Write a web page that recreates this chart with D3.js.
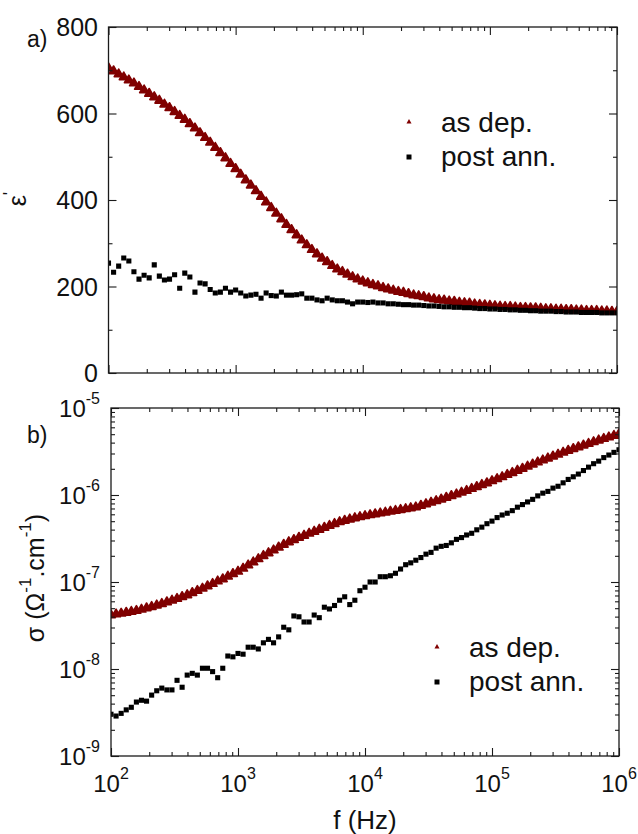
<!DOCTYPE html>
<meta charset="utf-8">
<style>
body { margin: 0; background: #fff; }
svg { font-family: "Liberation Sans", Arial, sans-serif; fill: #111; }
.frame { fill: none; stroke: #1a1a1a; stroke-width: 1.3px; }
.axis .tick line { stroke: #1a1a1a; stroke-width: 1.1px; }
.axis .domain { display: none; }
</style>
<body>
<svg id="chart" width="638" height="834"></svg>
<script src="https://d3js.org/d3.v7.min.js"></script>
<script>
// frequency sweep, log10(f / Hz)
var freqExp = [2.00,2.04,2.08,2.12,2.16,2.20,2.24,2.28,2.32,2.36,
    2.40,2.44,2.48,2.52,2.56,2.60,2.64,2.68,2.72,2.76,
    2.80,2.84,2.88,2.92,2.96,3.00,3.04,3.08,3.12,3.16,
    3.20,3.24,3.28,3.32,3.36,3.40,3.44,3.48,3.52,3.56,
    3.60,3.64,3.68,3.72,3.76,3.80,3.84,3.88,3.92,3.96,
    4.00,4.04,4.08,4.12,4.16,4.20,4.24,4.28,4.32,4.36,
    4.40,4.44,4.48,4.52,4.56,4.60,4.64,4.68,4.72,4.76,
    4.80,4.84,4.88,4.92,4.96,5.00,5.04,5.08,5.12,5.16,
    5.20,5.24,5.28,5.32,5.36,5.40,5.44,5.48,5.52,5.56,
    5.60,5.64,5.68,5.72,5.76,5.80,5.84,5.88,5.92,5.96,
    6.00];

// a) permittivity
var epsAsDep = [705,698,691,684,677,670,662,654,646,638,
    630,621,613,604,595,586,576,566,555,544,
    533,521,509,497,484,472,459,446,434,421,
    408,395,382,369,356,343,331,319,307,296,
    285,275,265,257,248,240,234,228,222,217,
    212,208,204,201,197,194,191,188,186,183,
    180,178,176,173,171,169,168,166,165,163,
    162,161,159,158,157,156,155,154,153,153,
    152,151,151,150,150,149,148,148,147,147,
    146,146,145,145,144,144,144,143,143,142,
    142];
var epsPostAnn = [254,233,247,266,259,234,217,226,220,250,
    224,215,217,227,196,231,222,187,208,206,
    193,185,187,196,187,192,185,178,180,182,
    173,185,179,178,187,180,180,181,183,173,
    173,169,167,173,169,167,167,164,160,164,
    164,163,164,162,162,160,160,159,158,158,
    157,157,156,155,155,154,153,153,152,152,
    151,151,150,149,149,148,148,147,147,146,
    146,145,145,144,144,143,143,143,142,142,
    141,141,141,140,140,140,140,139,139,139,
    139];

// b) conductivity (ohm^-1 cm^-1)
var sigAsDep = [4.17e-8,4.26e-8,4.35e-8,4.45e-8,4.56e-8,4.68e-8,4.83e-8,5.01e-8,5.19e-8,5.40e-8,
    5.62e-8,5.87e-8,6.14e-8,6.43e-8,6.75e-8,7.08e-8,7.50e-8,7.94e-8,8.43e-8,8.97e-8,
    9.55e-8,1.02e-7,1.08e-7,1.16e-7,1.24e-7,1.32e-7,1.43e-7,1.56e-7,1.69e-7,1.84e-7,
    2.00e-7,2.15e-7,2.32e-7,2.50e-7,2.69e-7,2.88e-7,3.05e-7,3.24e-7,3.42e-7,3.61e-7,
    3.80e-7,4.01e-7,4.22e-7,4.44e-7,4.67e-7,4.90e-7,5.08e-7,5.26e-7,5.43e-7,5.60e-7,
    5.75e-7,5.89e-7,6.03e-7,6.17e-7,6.31e-7,6.46e-7,6.61e-7,6.76e-7,6.92e-7,7.08e-7,
    7.24e-7,7.55e-7,7.87e-7,8.20e-7,8.55e-7,8.91e-7,9.33e-7,9.77e-7,1.02e-6,1.07e-6,
    1.12e-6,1.18e-6,1.24e-6,1.31e-6,1.37e-6,1.45e-6,1.53e-6,1.61e-6,1.71e-6,1.80e-6,
    1.91e-6,2.01e-6,2.13e-6,2.25e-6,2.38e-6,2.51e-6,2.64e-6,2.78e-6,2.92e-6,3.08e-6,
    3.24e-6,3.39e-6,3.55e-6,3.72e-6,3.89e-6,4.07e-6,4.25e-6,4.43e-6,4.61e-6,4.81e-6,
    5.01e-6];
var sigPostAnn = [3.02e-9,2.88e-9,3.09e-9,3.39e-9,3.63e-9,4.17e-9,4.37e-9,4.27e-9,5.01e-9,5.62e-9,
    6.03e-9,5.75e-9,5.75e-9,7.41e-9,6.17e-9,8.51e-9,8.91e-9,8.51e-9,1.02e-8,1.02e-8,
    9.33e-9,7.94e-9,1.02e-8,1.41e-8,1.38e-8,1.51e-8,1.48e-8,1.78e-8,1.78e-8,1.70e-8,
    2.00e-8,2.19e-8,2.00e-8,2.34e-8,3.02e-8,2.82e-8,4.07e-8,3.98e-8,3.47e-8,3.47e-8,
    4.17e-8,3.89e-8,5.13e-8,4.90e-8,5.37e-8,6.17e-8,6.76e-8,5.50e-8,6.17e-8,7.94e-8,
    8.71e-8,1.00e-7,1.00e-7,1.15e-7,1.15e-7,1.18e-7,1.26e-7,1.41e-7,1.58e-7,1.66e-7,
    1.78e-7,1.91e-7,2.09e-7,2.19e-7,2.45e-7,2.57e-7,2.63e-7,2.82e-7,3.09e-7,3.24e-7,
    3.47e-7,3.63e-7,3.98e-7,4.27e-7,4.68e-7,5.01e-7,5.50e-7,5.89e-7,6.17e-7,6.61e-7,
    7.24e-7,7.76e-7,8.32e-7,8.91e-7,9.77e-7,1.05e-6,1.10e-6,1.20e-6,1.26e-6,1.38e-6,
    1.51e-6,1.62e-6,1.74e-6,1.91e-6,2.09e-6,2.29e-6,2.45e-6,2.69e-6,2.88e-6,3.09e-6,
    3.31e-6];

var seriesNames = ["as dep.", "post ann."];
var freqTicks = [1e2, 1e3, 1e4, 1e5, 1e6];
var epsTicks = [0, 200, 400, 600, 800];
var epsMinor = [100, 300, 500, 700];
var sigTicks = [1e-9, 1e-8, 1e-7, 1e-6, 1e-5];

var red = "#800000";
var svg = d3.select("#chart");
var defs = svg.append("defs");

function logMinor(majors) {
    var out = [];
    majors.slice(0, -1).forEach(function(m) {
        for (var k = 2; k <= 9; k++) out.push(m * k);
    });
    return out;
}

function drawTicks(g, p, x, y, yMajor, yMinor) {
    var xMinor = logMinor(freqTicks);
    var sets = [
        [d3.axisBottom, x, "translate(0," + p.bottom + ")"],
        [d3.axisTop, x, "translate(0," + p.top + ")"],
        [d3.axisLeft, y, "translate(" + p.left + ",0)"],
        [d3.axisRight, y, "translate(" + p.right + ",0)"]
    ];
    sets.forEach(function(s) {
        var isX = s[1] === x;
        var major = isX ? freqTicks : yMajor, minor = isX ? xMinor : yMinor;
        g.append("g").attr("class", "axis").attr("transform", s[2])
            .call(s[0](s[1]).tickValues(major).tickSize(-8).tickFormat(""));
        g.append("g").attr("class", "axis").attr("transform", s[2])
            .call(s[0](s[1]).tickValues(minor).tickSize(-4).tickFormat(""));
    });
    g.append("rect").attr("class", "frame")
        .attr("x", p.left).attr("y", p.top)
        .attr("width", p.right - p.left).attr("height", p.bottom - p.top);
}

function powerLabel(sel, exp, supSize) {
    sel.append("tspan").text("10");
    sel.append("tspan").attr("font-size", supSize).attr("dy", "-0.8em").text(exp);
}

function drawPanel(p) {
    var x = d3.scaleLog().domain([1e2, 1e6]).range([p.left, p.right]);
    var y = p.y;
    var g = svg.append("g");

    defs.append("clipPath").attr("id", "clip-" + p.name).append("rect")
        .attr("x", p.left).attr("y", p.top)
        .attr("width", p.right - p.left).attr("height", p.bottom - p.top);

    var pts = g.append("g").attr("clip-path", "url(#clip-" + p.name + ")");
    var tri = d3.symbol().type(d3.symbolTriangle).size(34);
    var sq = d3.symbol().type(d3.symbolSquare).size(26);

    pts.selectAll(".asdep").data(p.asDep).join("path")
        .attr("class", "asdep")
        .attr("d", tri)
        .attr("fill", red)
        .attr("stroke", red)
        .attr("stroke-width", 1.6)
        .attr("stroke-linejoin", "round")
        .attr("transform", function(d, i) {
            return "translate(" + x(Math.pow(10, freqExp[i])) + "," + y(d) + ")";
        });
    pts.selectAll(".postann").data(p.postAnn).join("path")
        .attr("class", "postann")
        .attr("d", sq)
        .attr("fill", "#000")
        .attr("transform", function(d, i) {
            return "translate(" + x(Math.pow(10, freqExp[i])) + "," + y(d) + ")";
        });

    drawTicks(g, p, x, y, p.yMajor, p.yMinor);

    // legend
    var lg = g.append("g");
    lg.append("path").attr("d", d3.symbol().type(d3.symbolTriangle).size(11))
        .attr("fill", red).attr("transform", "translate(" + p.legX + "," + (p.legY - 10) + ")");
    lg.append("path").attr("d", d3.symbol().type(d3.symbolSquare).size(25))
        .attr("fill", "#000").attr("transform", "translate(" + p.legX + "," + (p.legY + 25) + ")");
    lg.selectAll("text").data(seriesNames).join("text")
        .attr("x", p.legX + 32)
        .attr("y", function(d, i) { return p.legY + i * 34; })
        .attr("font-size", 28)
        .text(function(d) { return d; });

    g.append("text").attr("x", 27).attr("y", p.tagY).attr("font-size", 23).text(p.tag);
    return { x: x, y: y, g: g };
}

// a) epsilon'
var a = drawPanel({
    name: "a", left: 108.5, right: 617, top: 27, bottom: 373,
    y: d3.scaleLinear().domain([0, 800]).range([373, 27]),
    yMajor: epsTicks, yMinor: epsMinor,
    asDep: epsAsDep, postAnn: epsPostAnn,
    legX: 409, legY: 132, tag: "a)", tagY: 47
});
a.g.selectAll(".ylab").data(epsTicks).join("text")
    .attr("class", "ylab")
    .attr("x", 98).attr("y", function(d) { return a.y(d); })
    .attr("dy", "0.36em").attr("text-anchor", "end")
    .attr("font-size", 25)
    .text(function(d) { return d; });
var epsLab = a.g.append("text")
    .attr("transform", "translate(26,199) rotate(-90)")
    .attr("text-anchor", "middle").attr("font-size", 25);
epsLab.append("tspan").text("ε");
epsLab.append("tspan").attr("font-size", 18).attr("dy", "-0.55em").text("'");

// b) sigma
var b = drawPanel({
    name: "b", left: 111, right: 619, top: 408, bottom: 756,
    y: d3.scaleLog().domain([1e-9, 1e-5]).range([756, 408]),
    yMajor: sigTicks, yMinor: logMinor(sigTicks),
    asDep: sigAsDep, postAnn: sigPostAnn,
    legX: 437, legY: 657, tag: "b)", tagY: 443
});
b.g.selectAll(".ylab").data(sigTicks).join("text")
    .attr("class", "ylab")
    .attr("x", 100).attr("y", function(d) { return b.y(d) + 9; })
    .attr("text-anchor", "end").attr("font-size", 24)
    .each(function(d) { powerLabel(d3.select(this), String(Math.round(Math.log10(d))), 16); });
b.g.selectAll(".xlab").data(freqTicks).join("text")
    .attr("class", "xlab")
    .attr("x", function(d) { return b.x(d); }).attr("y", 792)
    .attr("text-anchor", "middle").attr("font-size", 24)
    .each(function(d) { powerLabel(d3.select(this), String(Math.round(Math.log10(d))), 16); });

var sigLab = b.g.append("text")
    .attr("transform", "translate(44,578) rotate(-90)")
    .attr("text-anchor", "middle").attr("font-size", 25);
sigLab.append("tspan").text("σ (Ω");
sigLab.append("tspan").attr("font-size", 17).attr("dy", "-0.75em").text("-1");
sigLab.append("tspan").attr("dy", "0.5em").text(".cm");
sigLab.append("tspan").attr("font-size", 17).attr("dy", "-0.75em").text("-1");
sigLab.append("tspan").attr("dy", "0.5em").text(")");

b.g.append("text").attr("x", 365).attr("y", 829)
    .attr("text-anchor", "middle").attr("font-size", 26).text("f (Hz)");
</script>
</body>
